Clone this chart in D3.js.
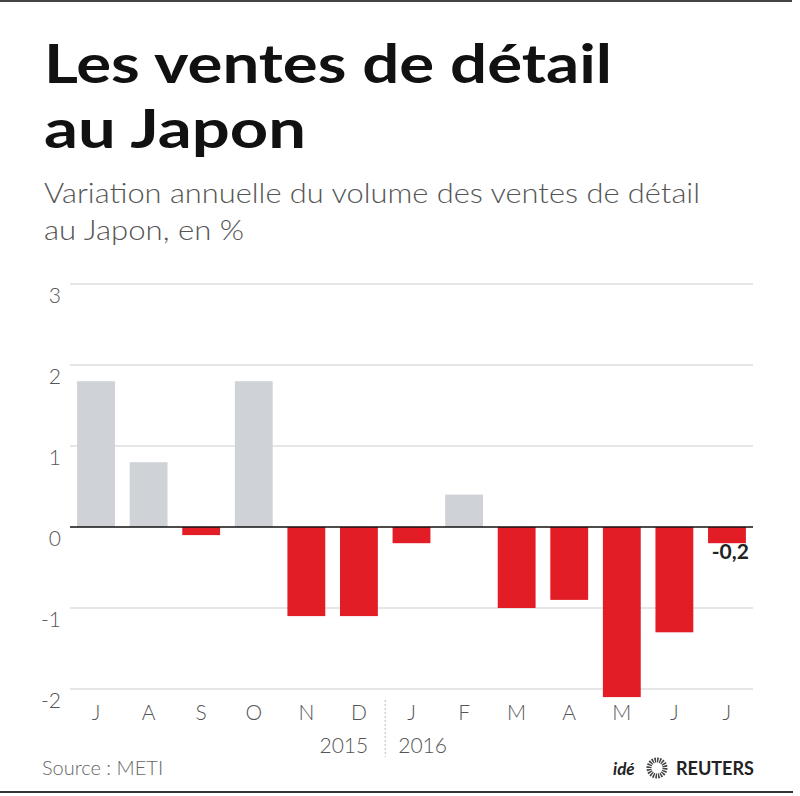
<!DOCTYPE html>
<html>
<head>
<meta charset="utf-8">
<script src="https://cdn.jsdelivr.net/npm/d3@7"></script>
<style>
  body { margin: 0; background: #fff; }
  svg { display: block; font-family: Lato, "Open Sans", sans-serif; }
</style>
</head>
<body>
<div id="chart"></div>
<script>
// data
const months = ["J", "A", "S", "O", "N", "D", "J", "F", "M", "A", "M", "J", "J"];
const values = [1.8, 0.8, -0.1, 1.8, -1.1, -1.1, -0.2, 0.4, -1.0, -0.9, -2.1, -1.3, -0.2];
const yTicks = [-2, -1, 0, 1, 2, 3];
const years = ["2015", "2016"];
const lastLabel = "-0,2";

const W = 800, H = 796;
const data = months.map((m, i) => ({ id: i, month: m, value: values[i] }));

const svg = d3.select("#chart")
  .append("svg")
    .attr("width", W)
    .attr("height", H);

svg.append("rect").attr("width", W).attr("height", H).attr("fill", "#fff");

// frame lines
svg.append("line").attr("x1", 0).attr("x2", 792).attr("y1", 1).attr("y2", 1)
  .attr("stroke", "#444").attr("stroke-width", 2);
svg.append("line").attr("x1", 0).attr("x2", 793).attr("y1", 792).attr("y2", 792)
  .attr("stroke", "#333").attr("stroke-width", 2);

// title, two lines in one text block
const title = svg.append("text")
  .attr("font-size", 54).attr("font-weight", 700).attr("fill", "#111");
title.append("tspan").attr("x", 44).attr("y", 83)
  .attr("textLength", 568).attr("lengthAdjust", "spacingAndGlyphs")
  .text("Les ventes de détail");
title.append("tspan").attr("x", 44).attr("y", 148)
  .attr("textLength", 262).attr("lengthAdjust", "spacingAndGlyphs")
  .text("au Japon");

// subtitle
const sub = svg.append("text")
  .attr("font-size", 27).attr("font-weight", 300).attr("fill", "#555");
sub.append("tspan").attr("x", 44).attr("y", 203)
  .attr("textLength", 656).attr("lengthAdjust", "spacingAndGlyphs")
  .text("Variation annuelle du volume des ventes de détail");
sub.append("tspan").attr("x", 44).attr("y", 240)
  .attr("textLength", 200).attr("lengthAdjust", "spacingAndGlyphs")
  .text("au Japon, en %");

// scales
const x = d3.scaleBand()
  .domain(data.map(d => d.id))
  .range([70, 753])
  .paddingInner(0.28)
  .paddingOuter(0.135);

const y = d3.scaleLinear()
  .domain([-2, 3])
  .range([689, 284]);

// grid
svg.append("g")
  .selectAll("line")
  .data(yTicks.filter(d => d !== 0))
  .join("line")
    .attr("x1", 70).attr("x2", 753)
    .attr("y1", d => y(d)).attr("y2", d => y(d))
    .attr("stroke", "#dedede").attr("stroke-width", 1.5);

// y labels
svg.append("g")
  .selectAll("text")
  .data(yTicks)
  .join("text")
    .attr("x", 61)
    .attr("y", d => y(d) + 12)
    .attr("dy", "0.35em")
    .attr("text-anchor", "end")
    .attr("font-size", 21).attr("font-weight", 300).attr("fill", "#555")
    .text(d => d);

// bars
svg.append("g")
  .selectAll("rect")
  .data(data)
  .join("rect")
    .attr("x", d => x(d.id))
    .attr("y", d => y(Math.max(0, d.value)))
    .attr("width", x.bandwidth())
    .attr("height", d => Math.abs(y(d.value) - y(0)))
    .attr("fill", d => d.value >= 0 ? "#cfd3d8" : "#e21d25");

// zero line
svg.append("line")
  .attr("x1", 70).attr("x2", 753)
  .attr("y1", y(0)).attr("y2", y(0))
  .attr("stroke", "#111").attr("stroke-width", 1.5);

// last value label
const last = data[data.length - 1];
svg.append("text")
  .attr("x", x(last.id) + x.bandwidth() + 3)
  .attr("y", y(last.value) + 16)
  .attr("text-anchor", "end")
  .attr("font-size", 21).attr("font-weight", 700).attr("fill", "#222")
  .text(lastLabel);

// month labels
svg.append("g")
  .selectAll("text")
  .data(data)
  .join("text")
    .attr("x", d => x(d.id) + x.bandwidth() / 2)
    .attr("y", 720)
    .attr("text-anchor", "middle")
    .attr("font-size", 21).attr("font-weight", 300).attr("fill", "#555")
    .text(d => d.month);

// year split
const sepX = (x(5) + x.bandwidth() + x(6)) / 2;
svg.append("line")
  .attr("x1", sepX).attr("x2", sepX).attr("y1", 700).attr("y2", 757)
  .attr("stroke", "#bbb").attr("stroke-width", 1).attr("stroke-dasharray", "2,2");
svg.append("text").attr("x", sepX - 17).attr("y", 753)
  .attr("text-anchor", "end")
  .attr("font-size", 21).attr("font-weight", 300).attr("fill", "#555")
  .text(years[0]);
svg.append("text").attr("x", sepX + 13).attr("y", 753)
  .attr("text-anchor", "start")
  .attr("font-size", 21).attr("font-weight", 300).attr("fill", "#555")
  .text(years[1]);

// source
svg.append("text").attr("x", 42).attr("y", 775)
  .attr("font-size", 20).attr("font-weight", 300).attr("fill", "#666")
  .text("Source : METI");

// logo
const logo = svg.append("g");
logo.append("text").attr("x", 613).attr("y", 775)
  .attr("font-size", 17).attr("font-weight", 700).attr("font-style", "italic").attr("fill", "#222")
  .text("idé");
logo.append("circle").attr("cx", 657).attr("cy", 768).attr("r", 8)
  .attr("fill", "none").attr("stroke", "#444").attr("stroke-width", 5)
  .attr("stroke-dasharray", "1.5,1");
logo.append("circle").attr("cx", 657).attr("cy", 768).attr("r", 3.5)
  .attr("fill", "#fff");
logo.append("text").attr("x", 676).attr("y", 775)
  .attr("font-size", 18).attr("font-weight", 700).attr("fill", "#222")
  .text("REUTERS");
</script>
</body>
</html>
